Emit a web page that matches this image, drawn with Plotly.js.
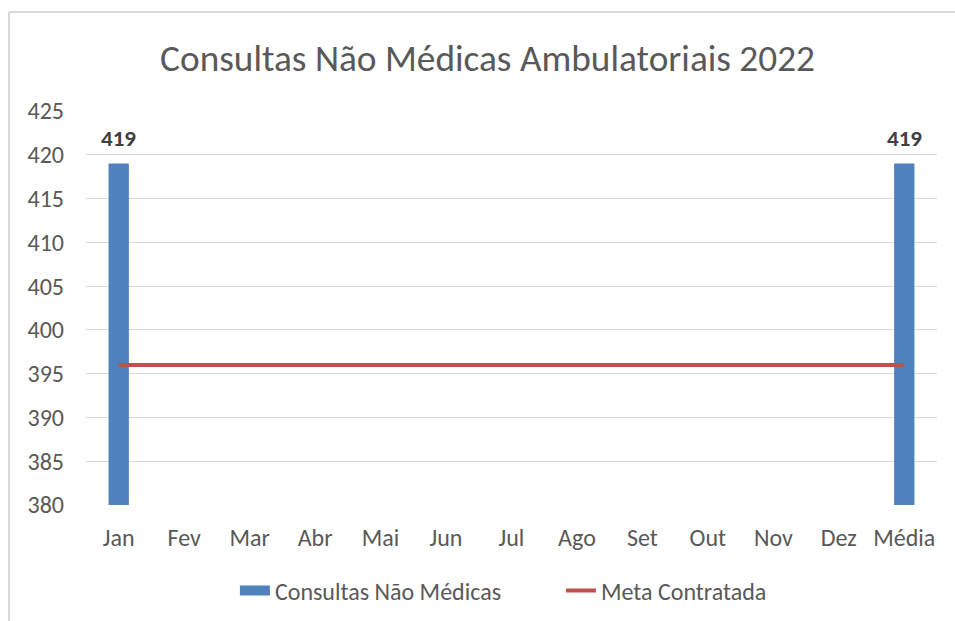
<!DOCTYPE html>
<html>
<head>
<meta charset="utf-8">
<script src="https://cdn.plot.ly/plotly-3.0.1.min.js"></script>
<style>html,body{margin:0;padding:0;background:#fff;}#chart{width:955px;height:621px;}</style>
</head>
<body>
<div id="chart"></div>
<script>
const categories = ["Jan","Fev","Mar","Abr","Mai","Jun","Jul","Ago","Set","Out","Nov","Dez","Média"];
const consultas = [419,null,null,null,null,null,null,null,null,null,null,null,419];
const meta = [396,396,396,396,396,396,396,396,396,396,396,396,396];

const FONT = "Calibri, Carlito, 'Liberation Sans Narrow', 'DejaVu Sans Condensed', 'Noto Sans', sans-serif";

const traces = [
  {
    type: "bar",
    name: "Consultas Não Médicas",
    x: categories,
    y: consultas,
    marker: {color: "#4F81BD"},
    width: 0.31,
    showlegend: false,
    hoverinfo: "x+y"
  },
  {
    type: "scatter",
    mode: "lines",
    name: "Consultas Não Médicas",
    x: [null],
    y: [null],
    line: {color: "#4F81BD", width: 11},
    showlegend: true
  },
  {
    type: "scatter",
    mode: "lines",
    name: "Meta Contratada",
    x: categories,
    y: meta,
    line: {color: "#C0504D", width: 4}
  }
];

const annotations = categories.map((c, i) => consultas[i] === null ? null : ({
  x: c, y: consultas[i], xref: "x", yref: "y",
  text: "<b>" + consultas[i] + "</b>",
  showarrow: false,
  yanchor: "middle",
  yshift: 26,
  font: {family: FONT, size: 23, color: "#404040"}
})).filter(a => a !== null);

const layout = {
  width: 955,
  height: 621,
  paper_bgcolor: "#ffffff",
  plot_bgcolor: "#ffffff",
  margin: {l: 86, r: 18, t: 111, b: 116, autoexpand: false},
  font: {family: FONT, color: "#595959", size: 24},
  title: {
    text: "Consultas Não Médicas Ambulatoriais 2022",
    font: {family: FONT, size: 37.3, color: "#595959"},
    x: 0.5105, xanchor: "center",
    y: 0.907, yanchor: "middle"
  },
  xaxis: {
    type: "category",
    automargin: false,
    tickfont: {family: FONT, size: 24, color: "#595959"},
    showgrid: false,
    zeroline: false,
    showline: false,
    ticks: "",
    ticklen: 0,
    ticklabelstandoff: 16
  },
  yaxis: {
    range: [380, 425],
    automargin: false,
    tick0: 380,
    dtick: 5,
    tickfont: {family: FONT, size: 24, color: "#595959"},
    gridcolor: "#D9D9D9",
    gridwidth: 1,
    zeroline: false,
    showline: false,
    ticks: "",
    ticklabelstandoff: 21
  },
  bargap: 0.69,
  showlegend: true,
  legend: {
    orientation: "h",
    x: 0.175, xanchor: "left",
    y: -0.218, yanchor: "middle",
    font: {family: FONT, size: 24, color: "#595959"},
    itemwidth: 30,
    entrywidth: 281,
    entrywidthmode: "pixels",
    tracegroupgap: 0
  },
  annotations: annotations,
  shapes: [
    {type: "line", xref: "paper", yref: "paper", x0: -0.0905, x1: 1.05, y0: 1.2513, y1: 1.2513, line: {color: "#D9D9D9", width: 2}},
    {type: "line", xref: "paper", yref: "paper", x0: -0.0905, x1: -0.0905, y0: 1.2513, y1: -0.32, line: {color: "#D9D9D9", width: 2}}
  ]
};

Plotly.newPlot("chart", traces, layout, {displayModeBar: false, staticPlot: true});
</script>
</body>
</html>
